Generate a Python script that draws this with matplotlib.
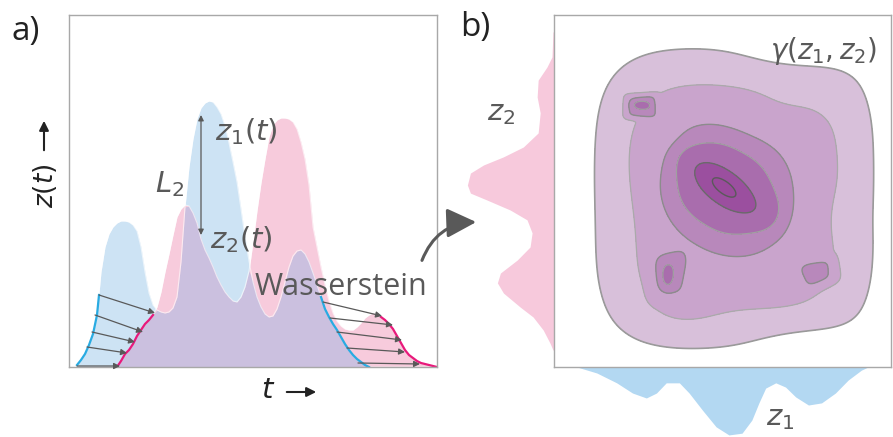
import numpy as np
import matplotlib.pyplot as plt
from matplotlib.patches import FancyArrowPatch

plt.rcParams['font.family'] = ['Open Sans', 'DejaVu Sans']
plt.rcParams['mathtext.fontset'] = 'custom'
plt.rcParams['mathtext.it'] = 'DejaVu Sans:italic'
plt.rcParams['mathtext.rm'] = 'DejaVu Sans'

# ---- panel a: two signals on a common time grid ----
t = np.arange(8, 369, 4)
z1 = [2, 7, 13, 22, 33, 52, 95, 120, 133, 140, 144, 146, 146, 145, 142, 136,
      120, 95, 74, 62, 57, 55, 54, 55, 59, 70, 105, 160, 200, 228, 248, 259,
      264, 266, 265, 260, 253, 241, 224, 205, 185, 158, 130, 106, 85, 70, 60,
      53, 50, 51, 58, 70, 85, 100, 111, 116, 117, 113, 105, 94, 82, 70, 58,
      50, 43, 37, 30, 23, 17, 12, 8, 5, 2, 0,
      0, 0, 0, 0, 0, 0, 0, 0, 0, 0, 0, 0, 0, 0, 0, 0, 0]
z2 = [0, 0, 0, 0, 0, 0, 0, 0, 0, 0,
      0, 6, 13, 17, 23, 31, 37, 43, 47, 52, 60, 75, 95, 113, 132, 150, 158,
      162, 161, 154, 144, 128, 117, 109, 100, 90, 82, 75, 70, 66, 65, 70, 80,
      96, 125, 156, 184, 208, 230, 242, 247, 249, 249, 248, 245, 238, 225,
      208, 182, 140, 120, 100, 82, 66, 54, 46, 41, 38, 37, 37, 40, 44, 49,
      52, 54, 53, 50, 47, 43, 38, 31, 24, 17, 12, 9, 6, 4, 3, 2, 1, 0]

# quantile transport arrows (start t, start z, end t, end z)
left_arrows = [(30, 72, 86, 54), (26, 52, 74, 35), (23, 35, 66, 25),
               (18, 20, 58, 14), (8, 1, 51, 1)]
right_arrows = [(254, 65, 313, 51), (261, 49, 324, 42), (268, 35, 333, 27),
                (278, 19, 336, 15), (289, 4, 351, 3)]

# ---- panel b: marginals and joint density ----
z2_pos = [0.952, 0.881, 0.852, 0.815, 0.767, 0.722, 0.665, 0.625, 0.597,
          0.574, 0.551, 0.517, 0.494, 0.474, 0.446, 0.418, 0.381, 0.341,
          0.304, 0.267, 0.239, 0.210, 0.170, 0.142, 0.105, 0.068, 0.048]
z2_dens = [0.003, 0.006, 0.021, 0.047, 0.050, 0.041, 0.047, 0.091, 0.150,
           0.209, 0.248, 0.257, 0.248, 0.198, 0.130, 0.080, 0.065, 0.071,
           0.109, 0.159, 0.168, 0.150, 0.100, 0.062, 0.032, 0.012, 0.003]
z1_pos = [0.068, 0.127, 0.186, 0.233, 0.274, 0.304, 0.333, 0.372, 0.401,
          0.440, 0.481, 0.519, 0.558, 0.587, 0.608, 0.628, 0.658, 0.687,
          0.717, 0.755, 0.794, 0.835, 0.873, 0.912, 0.932]
z1_dens = [0.0, 0.017, 0.045, 0.074, 0.088, 0.074, 0.045, 0.045, 0.074,
           0.122, 0.170, 0.193, 0.188, 0.151, 0.102, 0.060, 0.045, 0.057,
           0.085, 0.108, 0.102, 0.074, 0.037, 0.009, 0.0]

# joint density components:
# centre u, centre v, width u, width v, angle (deg), amplitude, power
bumps = [
    (0.535, 0.48, 0.36, 0.37, 0, 0.40, 4),     # broad plateau
    (0.72, 0.90, 0.15, 0.07, 0, -0.08, 2),     # upper right edge
    (0.75, 0.06, 0.15, 0.06, 0, -0.08, 2),     # lower right edge
    (0.68, 0.74, 0.12, 0.06, 0, -0.06, 2),
    (0.38, 0.15, 0.12, 0.06, 0, 0.06, 2),
    (0.86, 0.42, 0.05, 0.08, 0, -0.06, 2),
    (0.32, 0.68, 0.05, 0.05, 0, -0.05, 2),
    (0.21, 0.42, 0.05, 0.15, 0, -0.05, 2),
    (0.50, 0.51, 0.20, 0.17, -30, 0.30, 2.5),  # central mode
    (0.64, 0.44, 0.06, 0.06, 0, 0.06, 2),
    (0.505, 0.51, 0.11, 0.045, -35, 0.35, 2),  # sharp core
    (0.257, 0.741, 0.05, 0.035, 0, 0.31, 6),   # top-left island
    (0.255, 0.745, 0.028, 0.014, 0, 0.13, 2),
    (0.339, 0.259, 0.056, 0.07, 0, 0.20, 4),   # bottom-left island
    (0.336, 0.255, 0.022, 0.04, 0, 0.12, 2),
    (0.785, 0.267, 0.055, 0.038, 15, 0.25, 4), # bottom-right island
]
levels = [0.07, 0.24, 0.485, 0.60, 0.80, 1.0, 2.0]
fill_colors = ['#d8c0da', '#c9a4cc', '#b888bb', '#a96dad', '#9b4f9f', '#9a4a9c']
line_colors = ['#9a9a9a', '#aaaaaa', '#8c8c8c', '#a0a0a0', '#6a6a6a', '#5a5a5a']

blue = '#cde3f4'
pink = '#f7cbdc'
purple = '#cbc0df'
cyan = '#29abe2'
magenta = '#e8197b'
grey = '#595959'

fig = plt.figure(figsize=(8.93, 4.37), dpi=100)

ax = fig.add_axes([69 / 893, 70 / 437, 368 / 893, 352 / 437])
t = np.asarray(t)
z1 = np.asarray(z1, float)
z2 = np.asarray(z2, float)
ax.fill_between(t, 0, z1, color=blue, lw=0)
ax.fill_between(t, 0, z2, color=pink, lw=0)
ax.fill_between(t, 0, np.minimum(z1, z2), color=purple, lw=0)
ax.plot(t, z1, color='white', lw=0.8, alpha=0.6)
ax.plot(t, z2, color='white', lw=0.8, alpha=0.6)

# highlighted tails run up to the first transport arrow
ts0, zs0, te0, ze0 = left_arrows[0]
m = t < ts0
ax.plot(np.r_[t[m], ts0], np.r_[z1[m], zs0], color=cyan, lw=1.6)
m = (t >= 48) & (t <= 86)
ax.plot(t[m], z2[m], color=magenta, lw=1.6)
m = (t >= 252) & (t <= 300)
ax.plot(t[m], z1[m], color=cyan, lw=1.6)
m = t >= 312
ax.plot(t[m], z2[m], color=magenta, lw=1.6)

for ts, zs, te, ze in left_arrows + right_arrows:
    ax.annotate('', xy=(te, ze), xytext=(ts, zs),
                arrowprops=dict(arrowstyle='-|>', color=grey, lw=0.9,
                                mutation_scale=9, shrinkA=0, shrinkB=0))

ax.annotate('', xy=(132, 252), xytext=(132, 132),
            arrowprops=dict(arrowstyle='<|-|>', color=grey, lw=0.9,
                            mutation_scale=8, shrinkA=0, shrinkB=0))

ax.text(146, 227, '$z_1(t)$', color=grey, fontsize=21)
ax.text(141, 119, '$z_2(t)$', color=grey, fontsize=21)
ax.text(86, 175, '$L_2$', color=grey, fontsize=21)
ax.text(186, 72, 'Wasserstein', color=grey, fontsize=22)

ax.set_xlim(0, 368)
ax.set_ylim(0, 352)
ax.set_xticks([])
ax.set_yticks([])
for s in ax.spines.values():
    s.set_color('#a8a8a8')
    s.set_linewidth(1.0)

# ---- panel b ----
bx = fig.add_axes([554 / 893, 70 / 437, 337 / 893, 352 / 437])
u = np.linspace(0, 1, 400)
U, V = np.meshgrid(u, u)
field = np.zeros_like(U)
for cu, cv, su, sv, ang, a, p in bumps:
    th = np.deg2rad(ang)
    du, dv = U - cu, V - cv
    xr = du * np.cos(th) + dv * np.sin(th)
    yr = -du * np.sin(th) + dv * np.cos(th)
    field += a * np.exp(-(np.abs(xr / su) ** p + np.abs(yr / sv) ** p))

bx.contourf(U, V, field, levels=levels, colors=fill_colors)
bx.contour(U, V, field, levels=levels[:-1], colors=line_colors,
           linewidths=[1.2, 0.9, 1.0, 0.9, 1.0, 1.0])

bx.fill_betweenx(z2_pos, -np.asarray(z2_dens), 0, color='#f7c9dc', lw=0,
                 clip_on=False)
bx.fill_between(z1_pos, -np.asarray(z1_dens), 0, color='#b3d8f2', lw=0,
                clip_on=False)

bx.text(0.64, 0.875, r'$\gamma(z_1,z_2)$', color=grey, fontsize=20)
bx.text(-0.20, 0.70, '$z_2$', color=grey, fontsize=21)
bx.text(0.63, -0.165, '$z_1$', color=grey, fontsize=21)

bx.set_xlim(0, 1)
bx.set_ylim(0, 1)
bx.set_xticks([])
bx.set_yticks([])
for s in bx.spines.values():
    s.set_color('#a8a8a8')
    s.set_linewidth(1.0)

# labels and arrows around the panels
fig.text(0.013, 0.965, 'a)', fontsize=24, va='top', color='#222222')
fig.text(0.515, 0.975, 'b)', fontsize=24, va='top', color='#222222')
fig.text(45 / 893, 1 - 186 / 437, '$z(t)$', rotation=90, fontsize=19,
         ha='center', va='center', color='#222222')
fig.text(268 / 893, 1 - 391 / 437, '$t$', fontsize=21,
         ha='center', va='center', color='#222222')

fig.add_artist(FancyArrowPatch((44 / 893, 1 - 153 / 437), (44 / 893, 1 - 118 / 437),
                               transform=fig.transFigure, arrowstyle='-|>',
                               mutation_scale=14, lw=1.5, color='#222222'))
fig.add_artist(FancyArrowPatch((284 / 893, 1 - 392 / 437), (319 / 893, 1 - 392 / 437),
                               transform=fig.transFigure, arrowstyle='-|>',
                               mutation_scale=14, lw=1.5, color='#222222'))
fig.add_artist(FancyArrowPatch((421 / 893, 1 - 263 / 437), (479 / 893, 1 - 222 / 437),
                               transform=fig.transFigure,
                               connectionstyle='arc3,rad=-0.35',
                               arrowstyle='-|>,head_length=0.9,head_width=0.45',
                               mutation_scale=20, lw=2.2, color=grey))

fig.savefig('out.png', dpi=100)
